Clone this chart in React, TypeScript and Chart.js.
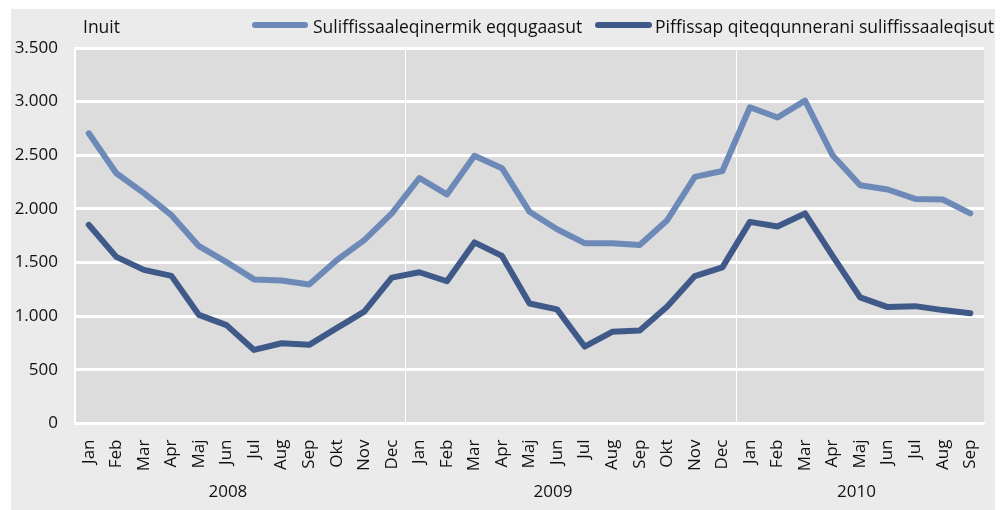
import React, { useEffect, useRef } from "react";
import { Chart, registerables } from "chart.js";

Chart.register(...registerables);

const months = ["Jan","Feb","Mar","Apr","Maj","Jun","Jul","Aug","Sep","Okt","Nov","Dec"];
const categories = [...months, ...months, ...months.slice(0, 9)];
const years = ["2008", "2009", "2010"];
const yearLabelIndex = [5.05, 16.85, 27.87];
const yearBoundaries = [12, 24];

const seriesNames = ["Suliffissaaleqinermik eqqugaasut", "Piffissap qiteqqunnerani suliffissaaleqisut"];
const totalUnemployed = [
  2705, 2333, 2147, 1942, 1653, 1504, 1343, 1333, 1296, 1522, 1709, 1958,
  2288, 2135, 2495, 2380, 1973, 1811, 1681, 1681, 1664, 1895, 2299, 2354,
  2948, 2852, 3010, 2500, 2221, 2181, 2093, 2088, 1958,
];
const averageUnemployed = [
  1852, 1553, 1432, 1376, 1012, 917, 686, 748, 733, 889, 1043, 1360,
  1410, 1326, 1688, 1562, 1119, 1064, 717, 855, 866, 1090, 1374, 1455,
  1879, 1836, 1958, 1562, 1175, 1085, 1094, 1057, 1028,
];
const yMax = 3500;
const yStep = 500;
const unitLabel = "Inuit";

const colors = ["#6d89b8", "#3f5a88"];
const FONT = "'Open Sans', sans-serif";

const fmt = (v: number) => String(v).replace(/\B(?=(\d{3})+(?!\d))/g, ".");

export default function App() {
  const ref = useRef<HTMLCanvasElement | null>(null);
  useEffect(() => {
    if (!ref.current) return;
    const bgPlugin = {
      id: "bg",
      beforeDraw(chart: any) {
        const { ctx, chartArea } = chart;
        ctx.save();
        ctx.fillStyle = "#ebebeb";
        ctx.fillRect(11, 9, 984, 501);
        ctx.fillStyle = "#dcdcdc";
        ctx.fillRect(chartArea.left, chartArea.top, chartArea.right - chartArea.left, chartArea.bottom - chartArea.top);
        ctx.restore();
      },
      afterDraw(chart: any) {
        const { ctx } = chart;
        const x = chart.scales.x;
        ctx.save();
        ctx.fillStyle = "#111";
        ctx.textBaseline = "middle";
        ctx.font = `17.5px ${FONT}`;
        ctx.textAlign = "left";
        ctx.fillText(unitLabel, 83, 28);
        const items = [
          { x0: 252, x1: 308, tx: 313 },
          { x0: 595, x1: 652, tx: 655 },
        ];
        chart.data.datasets.forEach((ds: any, i: number) => {
          const it = items[i];
          ctx.strokeStyle = ds.borderColor;
          ctx.lineWidth = 6;
          ctx.lineCap = "round";
          ctx.beginPath();
          ctx.moveTo(it.x0 + 3, 25);
          ctx.lineTo(it.x1 - 3, 25);
          ctx.stroke();
          ctx.fillText(ds.label, it.tx, 28);
        });
        ctx.font = `17px ${FONT}`;
        ctx.textAlign = "center";
        years.forEach((y, i) => {
          ctx.fillText(y, x.getPixelForValue(yearLabelIndex[i]), 492);
        });
        ctx.restore();
      },
    };
    const chart = new Chart(ref.current, {
      type: "line",
      data: {
        labels: categories,
        datasets: [
          { label: seriesNames[0], data: totalUnemployed, borderColor: colors[0], backgroundColor: colors[0] },
          { label: seriesNames[1], data: averageUnemployed, borderColor: colors[1], backgroundColor: colors[1] },
        ],
      },
      options: {
        animation: false,
        responsive: false,
        maintainAspectRatio: false,
        layout: { padding: { left: 0, right: 20, top: 48, bottom: 0 } },
        elements: {
          line: { borderWidth: 6, tension: 0, borderJoinStyle: "round", borderCapStyle: "round" },
          point: { radius: 0, hoverRadius: 0 },
        },
        plugins: { legend: { display: false }, tooltip: { enabled: false } },
        scales: {
          x: {
            type: "category",
            offset: true,
            afterFit(scale: any) { scale.height = 86.5; },
            grid: {
              offset: true,
              drawTicks: false,
              lineWidth: 1,
              color: (c: any) => (yearBoundaries.includes(c.index) ? "#ffffff" : "rgba(0,0,0,0)"),
            },
            border: { display: true, color: "#ffffff", width: 3 },
            ticks: {
              autoSkip: false,
              minRotation: 90,
              maxRotation: 90,
              padding: 16,
              color: "#111",
              font: { family: FONT, size: 17 },
            },
          },
          y: {
            min: 0,
            max: yMax,
            afterFit(scale: any) { scale.width = 75; },
            grid: { color: "#ffffff", lineWidth: 3, drawTicks: false },
            border: { display: true, color: "#ffffff", width: 2 },
            ticks: {
              stepSize: yStep,
              padding: 17,
              color: "#111",
              font: { family: FONT, size: 17 },
              callback: (v: any) => fmt(Number(v)),
            },
          },
        },
      },
      plugins: [bgPlugin],
    } as any);
    return () => chart.destroy();
  }, []);
  return (
    <div style={{ position: "absolute", left: 0, top: 0, width: 1007, height: 510 }}>
      <canvas ref={ref} width={1007} height={510} style={{ width: 1007, height: 510, display: "block" }} />
    </div>
  );
}
